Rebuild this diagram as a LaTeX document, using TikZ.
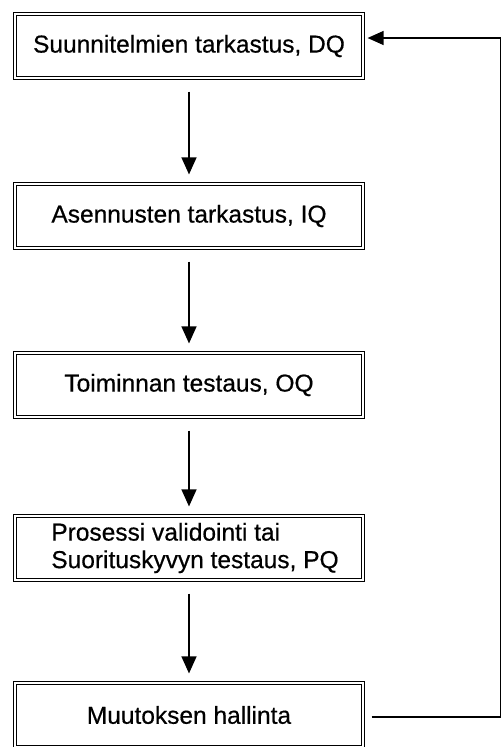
\documentclass[tikz,border=0pt]{standalone}
\usepackage{fontspec}
\setmainfont[FakeBold=0.5]{Liberation Sans}
\usetikzlibrary{positioning,arrows.meta}

\begin{document}
\begin{tikzpicture}[x = 1pt, y = -1pt, node distance = 167pt, on grid,
                    semithick,
                    stage/.style = {rectangle,
                                    draw,
                                    double,
                                    line width = 1.2pt,
                                    double distance = 2.2pt,
                                    minimum width = 348pt,
                                    minimum height = 64pt,
                                    inner sep = 0pt,
                                    font = \fontsize{24.5}{27.5}\selectfont},
                    flow/.style = {-{Triangle[width = 15pt, length = 17pt]},
                                   line width = 1.4pt,
                                   shorten < = 13pt, shorten > = 9pt},
                    back/.style = {-{Triangle[width = 14pt, length = 16pt]},
                                   line width = 1.3pt,
                                   shorten < = 8pt, shorten > = 4pt}]

\useasboundingbox (0,0) rectangle (501,747);

\node[stage] (DQ) at (189,46) {Suunnitelmien tarkastus, DQ};
\node[stage] (IQ) [below = 170pt of DQ] {Asennusten tarkastus, IQ};
\node[stage] (OQ) [below = 169pt of IQ] {Toiminnan testaus, OQ};
\node[stage] (PQ) [below = 163pt of OQ, align = left]
      {\hspace*{12pt}Prosessi validointi tai\\\hspace*{12pt}Suorituskyvyn testaus, PQ};
\node[stage] (CC) [below = 167pt of PQ] {Muutoksen hallinta};

\draw[flow] (DQ) -- (IQ);
\draw[flow] (IQ) -- (OQ);
\draw[flow] (OQ) -- (PQ);
\draw[flow] (PQ) -- (CC);

% paluu muutoksen hallinnasta alkuun
\coordinate (TR) at (500.5,38);
\coordinate (BR) at (500.5,717);
\draw[back] (CC.east |- BR) -- (BR) -- (TR) -- (DQ.east |- TR);

\end{tikzpicture}
\end{document}
